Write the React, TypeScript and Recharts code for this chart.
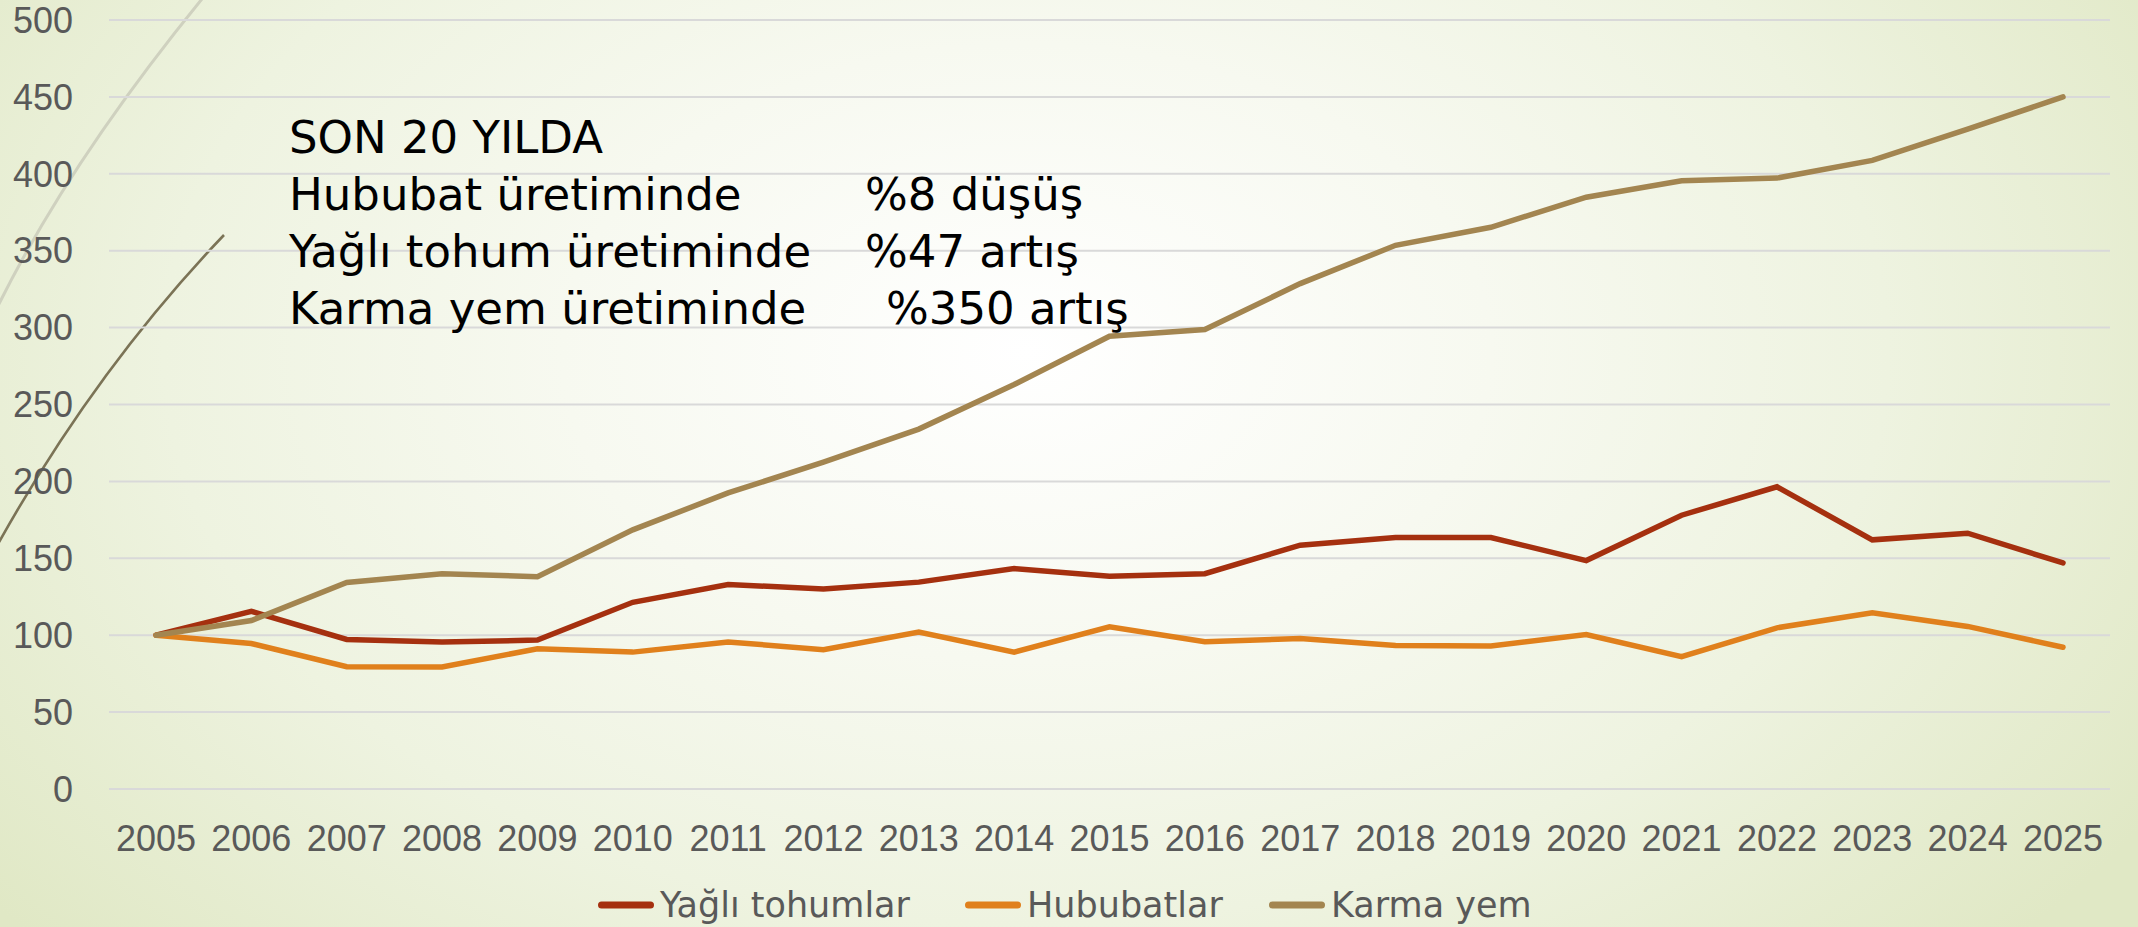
import React from 'react';
import { LineChart, Line, XAxis, YAxis, CartesianGrid, Legend } from 'recharts';

const years = ['2005', '2006', '2007', '2008', '2009', '2010', '2011', '2012', '2013', '2014', '2015', '2016', '2017', '2018', '2019', '2020', '2021', '2022', '2023', '2024', '2025'];
const yagliTohumlar = [100, 115.5, 97.2, 95.5, 96.8, 121.4, 133, 130, 134.5, 143.3, 138.4, 140, 158.5, 163.5, 163.5, 148.5, 178, 196.5, 162, 166.3, 147];
const hububatlar = [100, 94.6, 79.5, 79.3, 91.2, 89, 95.6, 90.6, 102, 89, 105.4, 95.8, 97.9, 93.3, 93, 100.4, 86, 104.8, 114.5, 105.7, 92.2];
const karmaYem = [100, 109.5, 134.3, 140, 138, 168.5, 192.5, 212.5, 234, 263, 294.4, 298.7, 328.6, 353.5, 365.2, 384.8, 395.5, 397.2, 408.7, 429, 450];
const yTicks = [0, 50, 100, 150, 200, 250, 300, 350, 400, 450, 500];
const seriesNames = ['Yağlı tohumlar', 'Hububatlar', 'Karma yem'];
const seriesColors = ['#A5300F', '#E0801C', '#A38550'];
const legendItemWidths = [367, 304, 280];

const noteLines = [
  { left: 'SON 20 YILDA', right: '' },
  { left: 'Hububat üretiminde', right: '%8 düşüş' },
  { left: 'Yağlı tohum üretiminde', right: '%47 artış' },
  { left: 'Karma yem üretiminde', right: '%350 artış' },
];
const noteRightX = [0, 865, 865, 886];

const data = years.map((year, i) => ({
  year,
  yagli: yagliTohumlar[i],
  hububat: hububatlar[i],
  karma: karmaYem[i],
}));

const renderLegend = (props: any) => {
  const payload = [...(props.payload || [])].sort(
    (a: any, b: any) => seriesNames.indexOf(a.value) - seriesNames.indexOf(b.value)
  );
  return (
    <div style={{ display: 'flex', alignItems: 'center', height: 48, fontFamily: 'DejaVu Sans', fontSize: 35, color: '#595959', whiteSpace: 'nowrap' }}>
      {payload.map((p: any, i: number) => (
        <div key={i} style={{ display: 'flex', alignItems: 'center', width: legendItemWidths[i] }}>
          <svg width={56} height={12} style={{ display: 'block' }}>
            <line x1={3.5} y1={6} x2={52.5} y2={6} stroke={p.color} strokeWidth={7} strokeLinecap="round" />
          </svg>
          <span style={{ marginLeft: 6 }}>{p.value}</span>
        </div>
      ))}
    </div>
  );
};

export default function App() {
  return (
    <div
      style={{
        position: 'absolute',
        left: 0,
        top: 0,
        width: 2138,
        height: 927,
        overflow: 'hidden',
        background: 'radial-gradient(ellipse 62% 95% at 48% 38%, #ffffff 0%, #f7f9f0 35%, #eef3e0 65%, #e0e8c5 100%)',
      }}
    >
      <svg width={2138} height={927} style={{ position: 'absolute', left: 0, top: 0 }}>
        <path d="M -2 306 Q 70 160 206 -6" fill="none" stroke="#cfd1bf" strokeWidth={3} />
        <path d="M -2 544 Q 95 370 224 235" fill="none" stroke="#7b7356" strokeWidth={2.6} />
      </svg>
      <div style={{ position: 'absolute', left: 0, top: 0 }}>
        <LineChart width={2138} height={927} data={data} margin={{ top: 20, right: 28, left: 0, bottom: 0 }}>
          <CartesianGrid vertical={false} stroke="#d9d9d9" strokeWidth={2} />
          <XAxis
            dataKey="year"
            interval={0}
            tickLine={false}
            axisLine={false}
            tickSize={0}
            tickMargin={36}
            height={90}
            padding={{ left: 47, right: 47 }}
            tick={{ fill: '#595959', fontSize: 36, fontFamily: 'Liberation Sans' }}
          />
          <YAxis
            domain={[0, 500]}
            ticks={yTicks}
            interval={0}
            width={109}
            tickLine={false}
            axisLine={false}
            tickSize={0}
            tickMargin={36}
            tick={{ fill: '#595959', fontSize: 36, fontFamily: 'Liberation Sans' }}
          />
          <Legend
            verticalAlign="bottom"
            content={renderLegend}
            wrapperStyle={{ position: 'absolute', left: 598, top: 881, width: 1000, height: 48 }}
          />
          <Line dataKey="yagli" name={seriesNames[0]} stroke={seriesColors[0]} strokeWidth={5.5} dot={false} strokeLinecap="round" isAnimationActive={false} />
          <Line dataKey="hububat" name={seriesNames[1]} stroke={seriesColors[1]} strokeWidth={5.5} dot={false} strokeLinecap="round" isAnimationActive={false} />
          <Line dataKey="karma" name={seriesNames[2]} stroke={seriesColors[2]} strokeWidth={5.5} dot={false} strokeLinecap="round" isAnimationActive={false} />
        </LineChart>
      </div>
      <div style={{ position: 'absolute', left: 0, top: 0, fontFamily: 'DejaVu Sans', fontSize: 45, color: '#000000', whiteSpace: 'pre' }}>
        {noteLines.map((ln, i) => (
          <div key={i} style={{ position: 'absolute', top: 109 + i * 57, left: 0, height: 57, lineHeight: '57px', width: 1200 }}>
            <span style={{ position: 'absolute', left: 289 }}>{ln.left}</span>
            {ln.right ? <span style={{ position: 'absolute', left: noteRightX[i] }}>{ln.right}</span> : null}
          </div>
        ))}
      </div>
    </div>
  );
}
